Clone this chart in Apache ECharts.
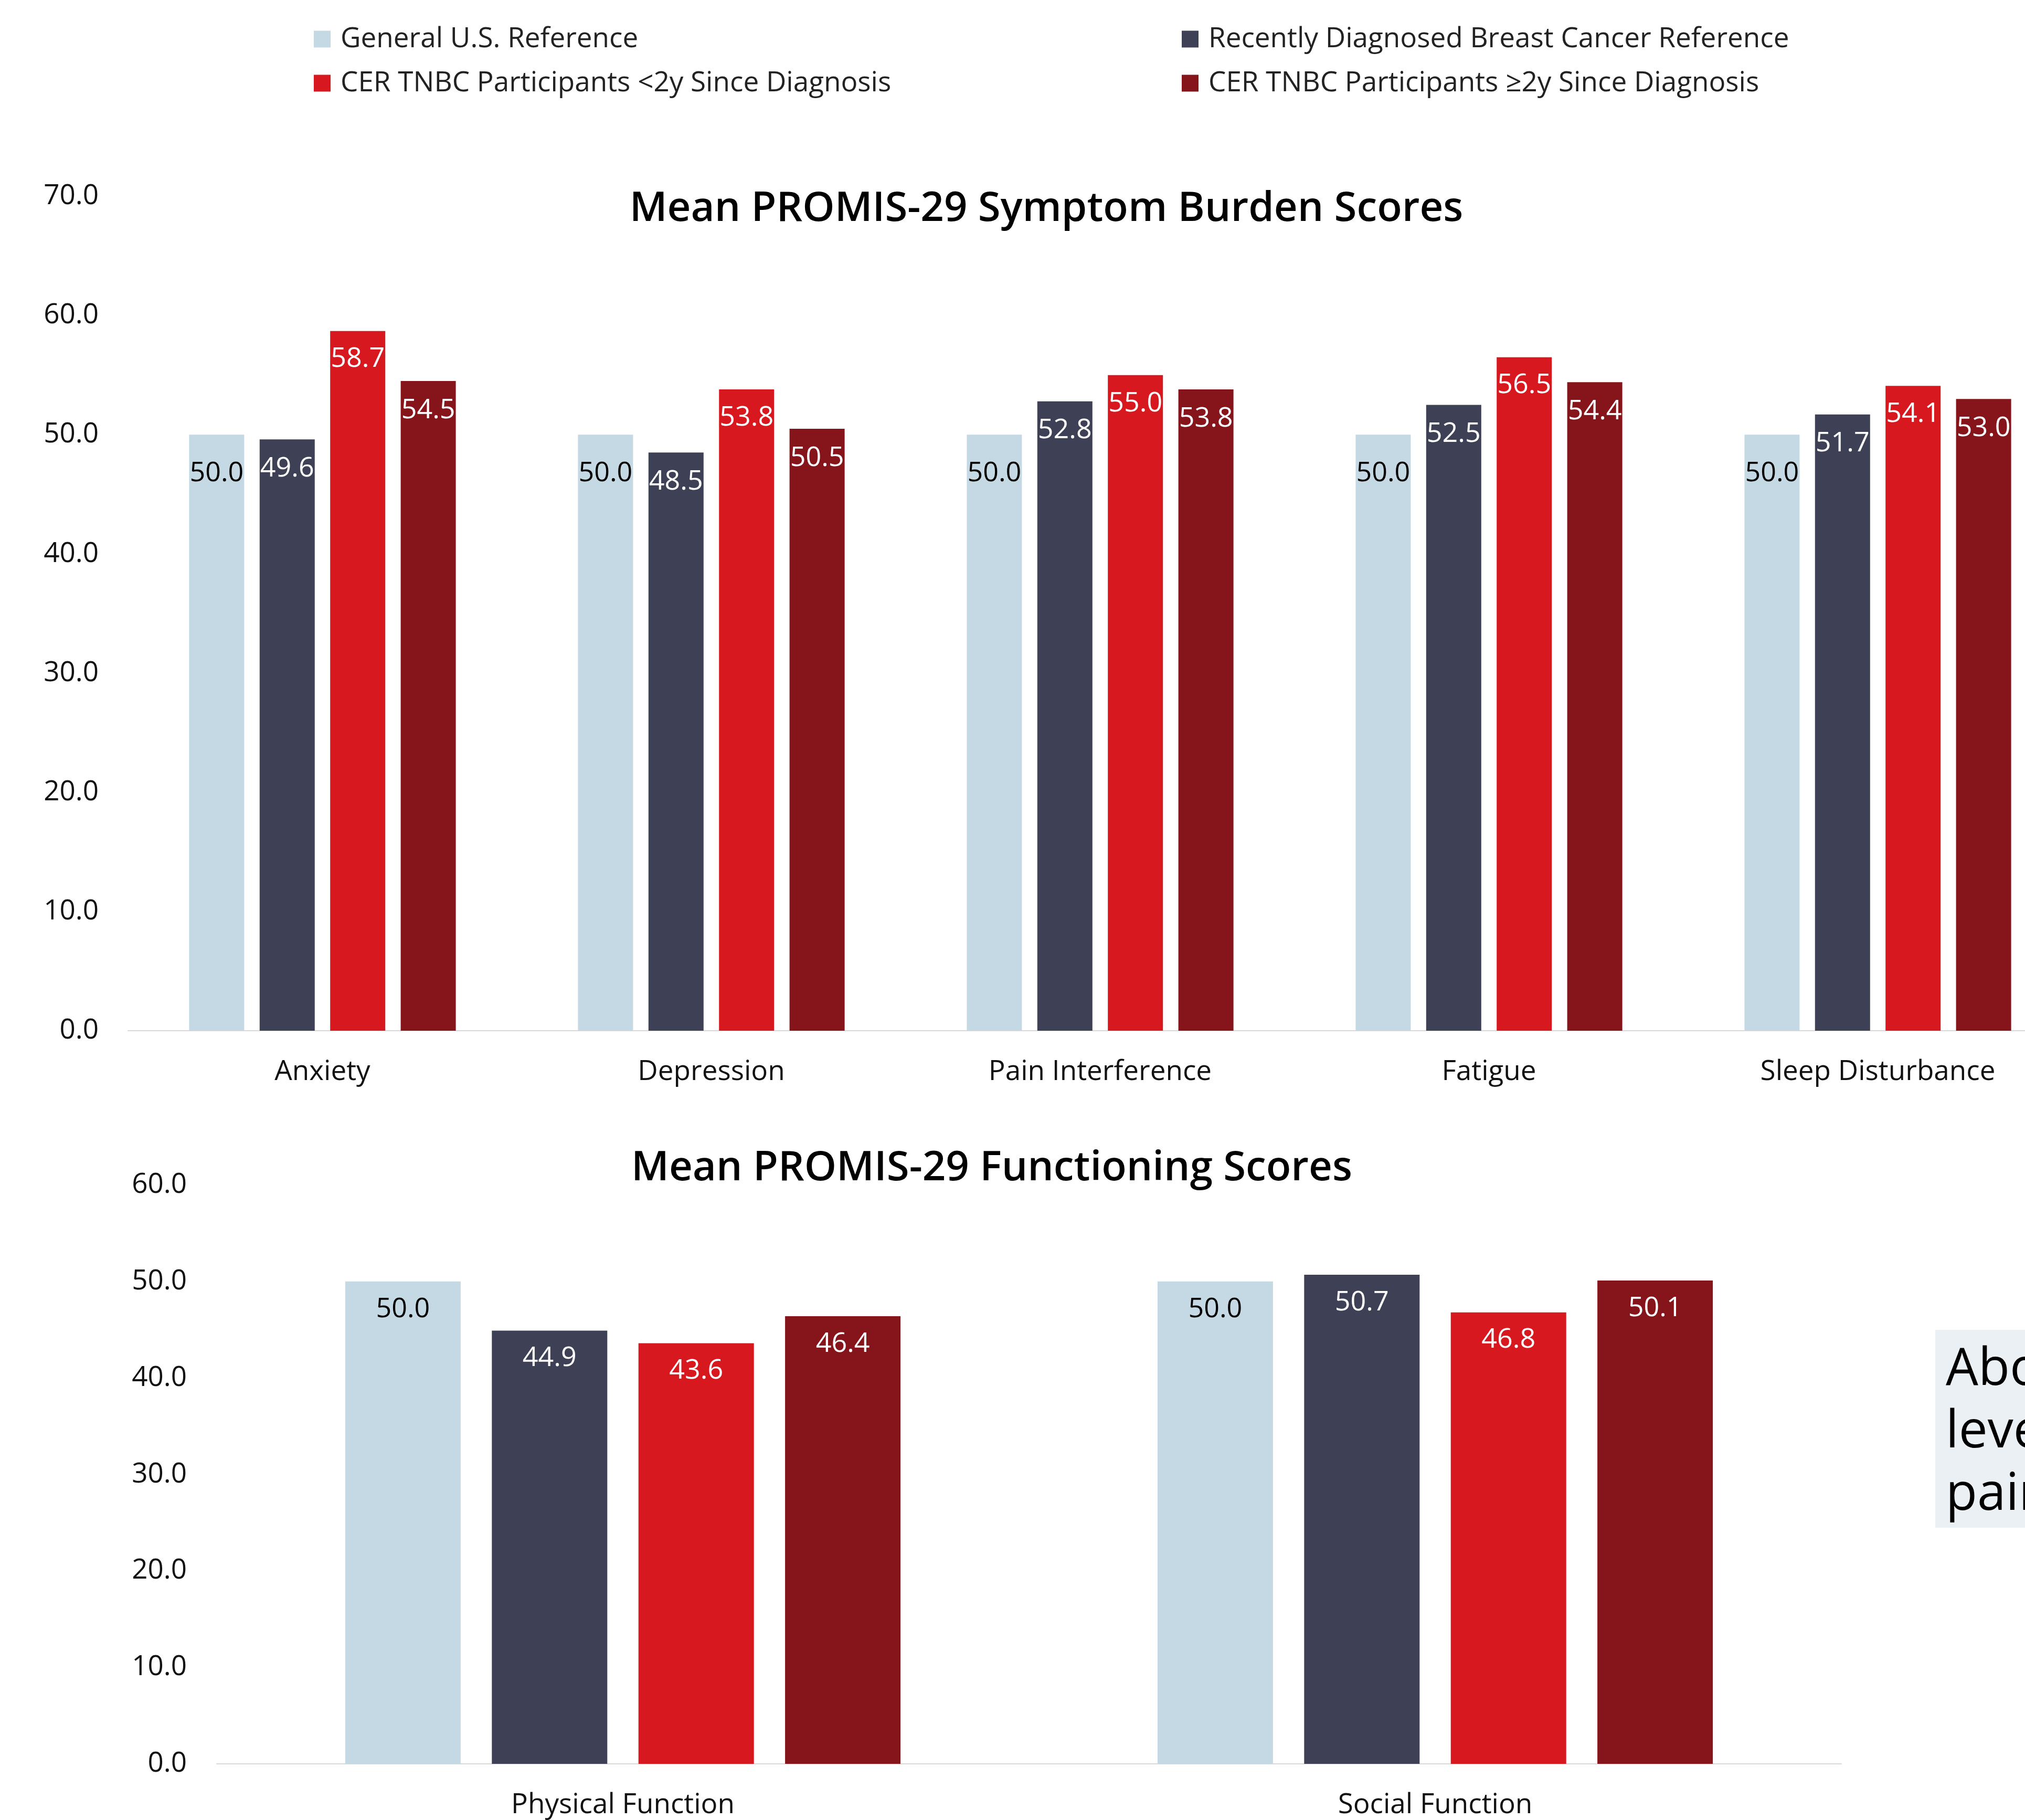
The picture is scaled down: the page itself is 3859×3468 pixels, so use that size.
<!DOCTYPE html>
<html>
<head>
<meta charset="utf-8">
<script src="https://cdn.jsdelivr.net/npm/echarts@6/dist/echarts.min.js"></script>
<style>
html,body{margin:0;padding:0;background:#fff;}
#chart{width:3859px;height:3468px;}
</style>
</head>
<body>
<div id="chart"></div>
<script>
// ---- data ----
const seriesNames = [
  'General U.S. Reference',
  'Recently Diagnosed Breast Cancer Reference',
  'CER TNBC Participants <2y Since Diagnosis',
  'CER TNBC Participants \u22652y Since Diagnosis'
];
const symptomCategories = ['Anxiety', 'Depression', 'Pain Interference', 'Fatigue', 'Sleep Disturbance'];
const symptomGeneral   = [50.0, 50.0, 50.0, 50.0, 50.0];
const symptomRecent    = [49.6, 48.5, 52.8, 52.5, 51.7];
const symptomLess2y    = [58.7, 53.8, 55.0, 56.5, 54.1];
const symptomMore2y    = [54.5, 50.5, 53.8, 54.4, 53.0];

const functionCategories = ['Physical Function', 'Social Function'];
const functionGeneral  = [50.0, 50.0];
const functionRecent   = [44.9, 50.7];
const functionLess2y   = [43.6, 46.8];
const functionMore2y   = [46.4, 50.1];

const symptomTitle = 'Mean PROMIS-29 Symptom Burden Scores';
const functionTitle = 'Mean PROMIS-29 Functioning Scores';
const calloutLines = ['About', 'levels', 'pain'];

// ---- styles ----
const colors = ['#C5D9E4', '#3E4156', '#D7191F', '#86141B'];
const labelColors = ['#000000', '#ffffff', '#ffffff', '#ffffff'];
const FONT = 'Open Sans';

const chart = echarts.init(document.getElementById('chart'));

function makeSeries(dataArr, gridIdx, barWidth, barGap, distances) {
  return dataArr.map((d, i) => ({
    name: seriesNames[i],
    type: 'bar',
    xAxisIndex: gridIdx,
    yAxisIndex: gridIdx,
    data: d,
    barWidth: barWidth,
    barGap: barGap,
    itemStyle: { color: colors[i] },
    label: {
      show: true,
      position: 'insideTop',
      distance: distances[i],
      color: labelColors[i],
      fontFamily: FONT,
      fontSize: 52,
      lineHeight: 52,
      formatter: p => p.value.toFixed(1)
    },
    emphasis: { disabled: true }
  }));
}

const axisLabelStyle = { fontFamily: FONT, fontSize: 53, color: '#111', lineHeight: 53 };

const option = {
  backgroundColor: '#ffffff',
  animation: false,
  title: [
    { text: symptomTitle, left: 1994, top: 360, textAlign: 'center', padding: 0,
      textStyle: { fontFamily: FONT, fontSize: 78, fontWeight: 600, color: '#000', lineHeight: 78 } },
    { text: functionTitle, left: 1890, top: 2188, textAlign: 'center', padding: 0,
      textStyle: { fontFamily: FONT, fontSize: 78, fontWeight: 600, color: '#000', lineHeight: 78 } }
  ],
  legend: [
    { data: [seriesNames[0], seriesNames[2]], orient: 'vertical', left: 598, top: 48, padding: 0,
      itemWidth: 32, itemHeight: 32, itemGap: 31, icon: 'rect', selectedMode: false,
      textStyle: { fontFamily: FONT, fontSize: 53, lineHeight: 53, color: '#222', padding: [0, 0, 0, 14] } },
    { data: [seriesNames[1], seriesNames[3]], orient: 'vertical', left: 2252, top: 48, padding: 0,
      itemWidth: 32, itemHeight: 32, itemGap: 31, icon: 'rect', selectedMode: false,
      textStyle: { fontFamily: FONT, fontSize: 53, lineHeight: 53, color: '#222', padding: [0, 0, 0, 14] } }
  ],
  grid: [
    { left: 244, top: 374, width: 3705, height: 1590, containLabel: false, outerBoundsMode: 'none' },
    { left: 413, top: 2258, width: 3096, height: 1103, containLabel: false, outerBoundsMode: 'none' }
  ],
  xAxis: [
    { type: 'category', gridIndex: 0, data: symptomCategories,
      axisLine: { lineStyle: { color: '#D9D9D9', width: 2 } }, axisTick: { show: false },
      axisLabel: Object.assign({ margin: 52 }, axisLabelStyle) },
    { type: 'category', gridIndex: 1, data: functionCategories,
      axisLine: { lineStyle: { color: '#D9D9D9', width: 2 } }, axisTick: { show: false },
      axisLabel: Object.assign({ margin: 52 }, axisLabelStyle) }
  ],
  yAxis: [
    { type: 'value', gridIndex: 0, min: 0, max: 70, interval: 10,
      axisLine: { show: false }, axisTick: { show: false }, splitLine: { show: false },
      axisLabel: Object.assign({ margin: 56, formatter: v => v.toFixed(1) }, axisLabelStyle) },
    { type: 'value', gridIndex: 1, min: 0, max: 60, interval: 10,
      axisLine: { show: false }, axisTick: { show: false }, splitLine: { show: false },
      axisLabel: Object.assign({ margin: 57, formatter: v => v.toFixed(1) }, axisLabelStyle) }
  ],
  series: [].concat(
    makeSeries([symptomGeneral, symptomRecent, symptomLess2y, symptomMore2y], 0, 105, '28%', [48, 30, 28, 30]),
    makeSeries([functionGeneral, functionRecent, functionLess2y, functionMore2y], 1, 220, '27%', [27, 27, 27, 27])
  ),
  graphic: [
    { type: 'rect', left: 3688, top: 2534, shape: { width: 400, height: 377 },
      style: { fill: '#EBF0F4' }, silent: true },
    { type: 'text', left: 3708, top: 2552,
      style: { text: calloutLines.join('\n'), fontFamily: FONT, fontSize: 98, lineHeight: 119, fill: '#000' },
      silent: true }
  ]
};
chart.setOption(option);
</script>
</body>
</html>
